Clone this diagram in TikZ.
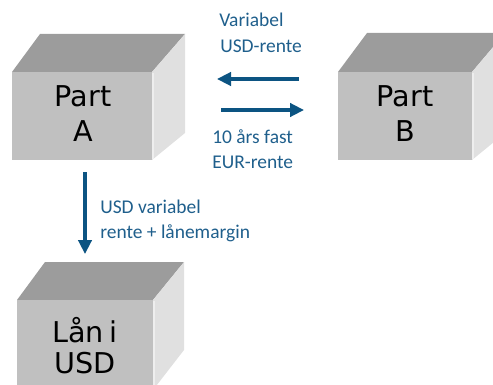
\documentclass[tikz,border=0pt]{standalone}
\usepackage{fontspec}
\setmainfont{Carlito}
\newfontfamily\boxfont{DejaVu Sans}
\usetikzlibrary{arrows.meta}
\definecolor{lblc}{RGB}{31,95,140}
\definecolor{arrc}{RGB}{12,84,130}
\definecolor{topc}{RGB}{156,156,156}
\definecolor{frontc}{RGB}{192,192,192}
\definecolor{sidec}{RGB}{224,224,224}
\definecolor{edgec}{RGB}{238,238,238}
\tikzset{
  topface/.style={fill=topc},
  sideface/.style={fill=sidec},
  frontface/.style={fill=frontc, draw=none, inner sep=0pt, anchor=north west},
  edgeline/.style={draw=edgec, line width=1.2pt},
  boxtext/.style={font=\boxfont\fontsize{21.5}{26}\selectfont, inner sep=0pt, anchor=base, text=black},
  lbl/.style={font=\fontsize{14.6}{18}\selectfont, text=lblc, inner sep=0pt, anchor=base west},
  flow/.style={draw=arrc, line width=2.4pt, -{Triangle[length=10.5pt, width=10pt]}}
}
\begin{document}
\begin{tikzpicture}[x=0.75pt, y=-0.75pt]
\useasboundingbox (0,0) rectangle (493,385);
\clip (0,0) rectangle (493,385);

% Box A
\fill[topface] (12,72) -- (40,34) -- (185,34) -- (152,72) -- cycle;
\fill[sideface] (152,72) -- (185,34) -- (185,133) -- (152,160) -- cycle;
\node[frontface, minimum width=105pt, minimum height=66pt] (partA) at (12,72) {};
\draw[edgeline] (153,73) -- (153,159);
\node[boxtext] (tA1) at (83,107) {Part};
\node[boxtext] (tA2) at (83,142) {A};

% Box B
\fill[topface] (338,72) -- (367,33) -- (505,33) -- (472,72) -- cycle;
\fill[sideface] (472,72) -- (505,33) -- (505,133) -- (472,160) -- cycle;
\node[frontface, minimum width=100.5pt, minimum height=66pt] (partB) at (338,72) {};
\draw[edgeline] (473,73) -- (473,159);
\node[boxtext] (tB1) at (405,107) {Part};
\node[boxtext] (tB2) at (405,142) {B};

% Box Lån
\fill[topface] (17,300) -- (45,262) -- (184,262) -- (153,300) -- cycle;
\fill[sideface] (153,300) -- (184,262) -- (184,350) -- (153,390) -- cycle;
\node[frontface, minimum width=102pt, minimum height=75pt] (loan) at (17,300) {};
\draw[edgeline] (154,301) -- (154,390);
\node[boxtext] (tL1) at (85,342) {Lån\hspace{0.2em}i};
\node[boxtext] (tL2) at (85,373) {USD};

% Arrows
\coordinate (l1) at (299,79);
\coordinate (l2) at (217,79);
\coordinate (r1) at (221,110);
\coordinate (r2) at (304,110);
\coordinate (d1) at (85,172);
\coordinate (d2) at (85,254);
\draw[flow] (l1) -- (l2);
\draw[flow] (r1) -- (r2);
\draw[flow] (d1) -- (d2);

% Labels
\node[lbl] (v1) at (219,27) {Variabel};
\node[lbl] (v2) at (220,53) {USD-rente};
\node[lbl] (f1) at (212,143) {10 års fast};
\node[lbl] (f2) at (212,168) {EUR-rente};
\node[lbl] (u1) at (100,213) {USD variabel};
\node[lbl] (u2) at (100,238) {rente + lånemargin};
\end{tikzpicture}
\end{document}
